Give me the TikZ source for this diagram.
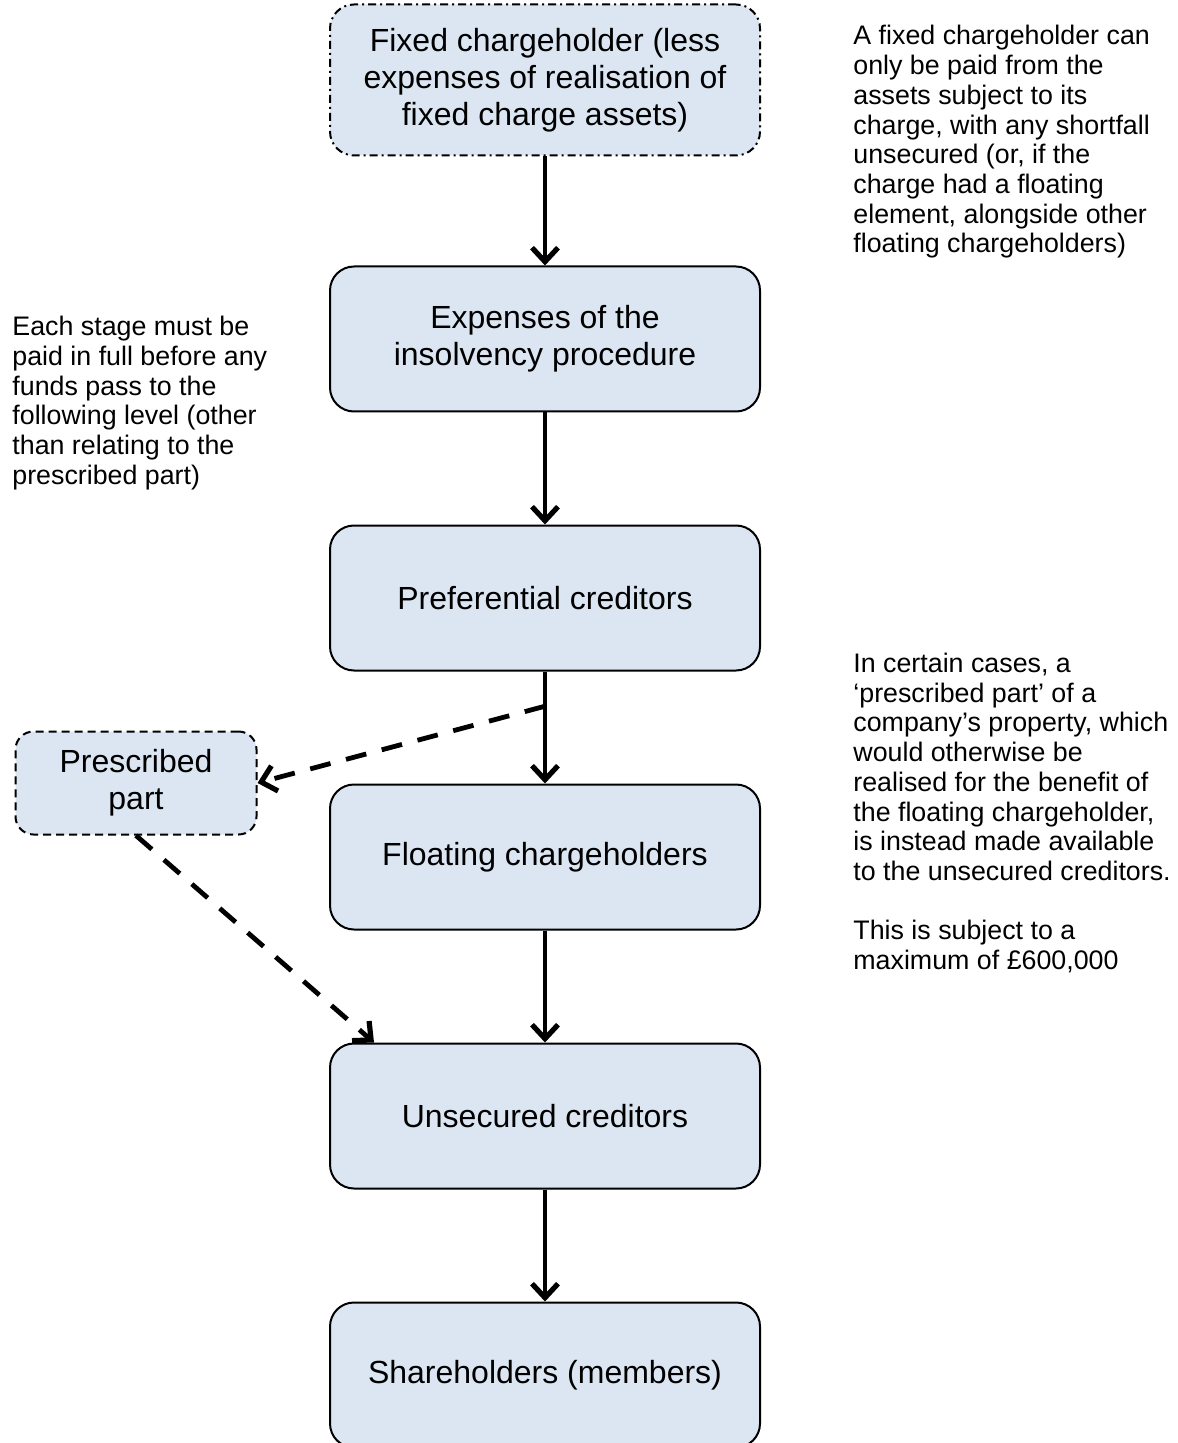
\documentclass[tikz,border=0pt]{standalone}
\usepackage{fontspec}
\setmainfont{Liberation Sans}
\usetikzlibrary{positioning, arrows.meta, calc}
\definecolor{boxblue}{RGB}{220,230,242}

\begin{document}
\begin{tikzpicture}[x=0.5pt, y=-0.5pt, node distance=129.5pt,
    stage/.style={draw, line width=1pt, fill=boxblue, rounded corners=12pt,
        minimum width=215pt, minimum height=72.5pt, align=center,
        font=\fontsize{16}{18.5}\selectfont},
    note/.style={align=left, inner sep=0pt, anchor=west,
        font=\fontsize{13.4}{14.85}\selectfont},
    flow/.style={-{Straight Barb[length=7pt,width=13pt,line width=2.6pt]}, line width=2pt},
    side/.style={flow, line width=2.4pt, dash pattern=on 10.5pt off 8pt}]

    \useasboundingbox (0,0) rectangle (1177,1443);

    \node[stage, minimum height=75.5pt, dash pattern=on 4pt off 2pt on 1pt off 2pt] (fixed) at (545,80)
        {Fixed chargeholder (less\\expenses of realisation of\\fixed charge assets)};
    \node[stage] (exp) [below of=fixed] {Expenses of the\\insolvency procedure};
    \node[stage] (pref) [below of=exp] {Preferential creditors};
    \node[stage] (float) [below of=pref] {Floating chargeholders};
    \node[stage] (unsec) [below of=float] {Unsecured creditors};
    \node[stage] (share) [below of=unsec] {Shareholders (members)};

    \node[stage, minimum width=120.5pt, minimum height=51.5pt, rounded corners=9pt,
        dash pattern=on 4pt off 2.5pt] (pp) at (136,783) {Prescribed\\part};

    % side notes
    \node[note] (fixednote) at (853,142) {A fixed chargeholder can\\only be paid from the\\assets subject to its\\charge, with any shortfall\\unsecured (or, if the\\charge had a floating\\element, alongside other\\floating chargeholders)};
    \node[note] (stagenote) at (12,403) {Each stage must be\\paid in full before any\\funds pass to the\\following level (other\\than relating to the\\prescribed part)};
    \node[note] (ppnote) at (853,813) {In certain cases, a\\‘prescribed part’ of a\\company’s property, which\\would otherwise be\\realised for the benefit of\\the floating chargeholder,\\is instead made available\\to the unsecured creditors.\\[14.85pt]This is subject to a\\maximum of £600,000};

    \coordinate (split) at ($(pref.south)!0.31!(float.north)$);
    \coordinate (hit) at ([xshift=22.5pt]unsec.north west);

    \path[flow]
    (fixed) edge (exp)
    (exp) edge (pref)
    (pref) edge (float)
    (float) edge (unsec)
    (unsec) edge (share)
    ;
    \draw[side] (split) -- (pp.east);
    \draw[side] (pp.south) -- (hit);
\end{tikzpicture}
\end{document}
